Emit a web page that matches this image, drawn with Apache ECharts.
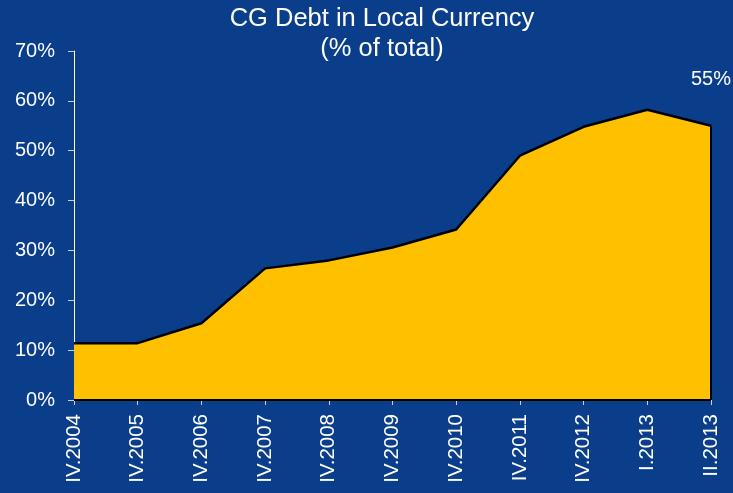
<!DOCTYPE html>
<html>
<head>
<meta charset="utf-8">
<script src="https://cdn.jsdelivr.net/npm/echarts@6/dist/echarts.min.js"></script>
<style>
  html, body { margin: 0; padding: 0; background: #0a3e8a; }
  #chart { width: 733px; height: 493px; }
</style>
</head>
<body>
<div id="chart"></div>
<script>
// Quarter labels along the horizontal axis
const categories = ['IV.2004', 'IV.2005', 'IV.2006', 'IV.2007', 'IV.2008', 'IV.2009',
                    'IV.2010', 'IV.2011', 'IV.2012', 'I.2013', 'II.2013'];
// Share of central government debt in local currency, %
const localShare = [11.4, 11.4, 15.4, 26.4, 28.0, 30.6, 34.2, 49.0, 54.8, 58.2, 55];
// Vertical axis ticks, %
const yTicks = [0, 10, 20, 30, 40, 50, 60, 70];

const font = 'Arial, "Liberation Sans", sans-serif';
const last = categories.length - 1;

const chart = echarts.init(document.getElementById('chart'));
chart.setOption({
  backgroundColor: '#0a3e8a',
  animation: false,
  title: {
    text: 'CG Debt in Local Currency\n(% of total)',
    left: 377,
    textAlign: 'center',
    top: -1,
    textStyle: { color: '#ffffff', fontFamily: font, fontSize: 25.5, fontWeight: 'normal', lineHeight: 30 }
  },
  grid: { left: 74, right: 22, top: 51, bottom: 93 },
  xAxis: {
    type: 'category',
    data: categories,
    boundaryGap: false,
    axisLine: { lineStyle: { color: '#ffffff', width: 1 } },
    axisTick: { length: 5, lineStyle: { color: '#c8d0e0' } },
    axisLabel: {
      rotate: 90, margin: 14, color: '#ffffff',
      fontFamily: font, fontSize: 20.5, interval: 0
    },
    splitLine: { show: false }
  },
  yAxis: {
    type: 'value',
    min: yTicks[0],
    max: yTicks[yTicks.length - 1],
    interval: 10,
    axisLine: { show: true, lineStyle: { color: '#ffffff', width: 1 } },
    axisTick: { show: true, length: 6, lineStyle: { color: '#c8d0e0' } },
    axisLabel: {
      color: '#ffffff', fontFamily: font, fontSize: 20, margin: 19,
      formatter: v => v + '%'
    },
    splitLine: { show: false }
  },
  series: [{
    type: 'line',
    data: localShare,
    symbol: 'none',
    lineStyle: { color: '#000000', width: 2.5 },
    areaStyle: { color: '#ffc000', opacity: 1 },
    markPoint: {
      silent: true,
      symbol: 'circle',
      symbolSize: 1,
      itemStyle: { color: 'rgba(0,0,0,0)' },
      label: {
        show: true,
        position: 'top',
        distance: 36,
        color: '#ffffff',
        fontFamily: font,
        fontSize: 20,
        formatter: p => Math.round(p.value) + '%'
      },
      data: [{ coord: [categories[last], localShare[last]], value: localShare[last] }]
    },
    markLine: {
      silent: true,
      symbol: ['none', 'none'],
      label: { show: false },
      lineStyle: { color: '#000000', width: 2, type: 'solid' },
      data: [
        [{ coord: [categories[last], 0] }, { coord: [categories[last], localShare[last]] }],
        [{ coord: [categories[0], 0] }, { coord: [categories[last], 0] }]
      ]
    }
  }]
});
</script>
</body>
</html>
